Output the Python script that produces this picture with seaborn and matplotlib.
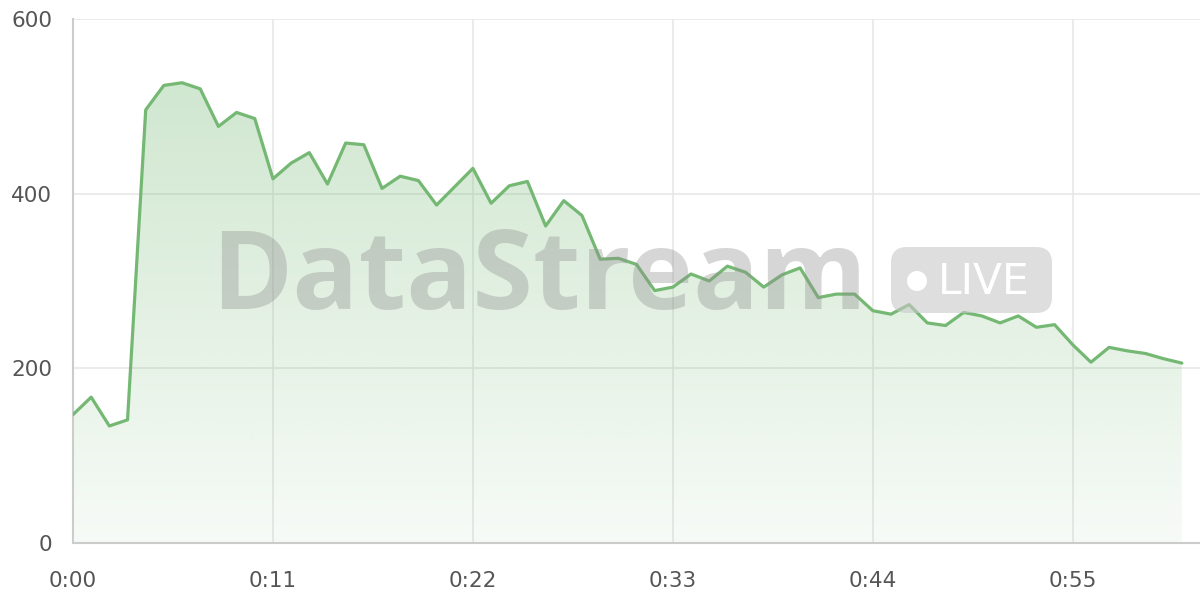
import numpy as np
import pandas as pd
import matplotlib
matplotlib.use("Agg")
import matplotlib.pyplot as plt
import seaborn as sns
from matplotlib.patches import FancyBboxPatch, Circle
from matplotlib.colors import to_rgb

# ---- data ----
seconds = list(range(62))
values = [147, 167, 134, 141, 496, 524, 527, 520, 477, 493, 486, 417, 435, 447, 411,
          458, 456, 406, 420, 415, 387, 408, 429, 389, 409, 414, 363, 392, 375, 325,
          326, 319, 289, 293, 308, 300, 317, 310, 293, 307, 315, 281, 285, 285, 266,
          262, 273, 252, 249, 264, 260, 252, 260, 247, 250, 227, 207, 224, 220, 217,
          211, 206]
tick_positions = [0, 11, 22, 33, 44, 55]
tick_labels = ["0:00", "0:11", "0:22", "0:33", "0:44", "0:55"]
y_ticks = [0, 200, 400, 600]
watermark = "DataStream"
badge = "LIVE"

LINE = "#74b874"
df = pd.DataFrame({"t": seconds, "v": values})

sns.set_theme(style="white")
plt.rcParams["font.family"] = ["DejaVu Sans"]

fig = plt.figure(figsize=(12, 6), dpi=100)
ax = fig.add_axes([73 / 1200, 57 / 600, 1127 / 1200, 524 / 600])
ax.set_xlim(0, 62)
ax.set_ylim(0, 600)

# gradient fill under the line
poly = ax.fill_between(df["t"], df["v"], 0, color="none", lw=0)
rgb = to_rgb(LINE)
n = 256
grad = np.zeros((n, 1, 4))
grad[:, 0, :3] = rgb
grad[:, 0, 3] = np.linspace(0.06, 0.34, n)
im = ax.imshow(grad, extent=[0, 61, 0, 527], origin="lower", aspect="auto", zorder=1)
path = poly.get_paths()[0]
im.set_clip_path(path, transform=ax.transData)

# watermark
fig.text(211 / 1200, 1 - 309 / 600, watermark, fontsize=79, fontweight="bold",
         family=["Open Sans", "DejaVu Sans"], color="#8f8f8f", alpha=0.36,
         ha="left", va="baseline", zorder=5)

box = FancyBboxPatch((891, 600 - 313), 161, 66, boxstyle="round,pad=0,rounding_size=16",
                     transform=None, facecolor="#c8c8c8", edgecolor="none",
                     alpha=0.6, zorder=5)
fig.patches.append(box)
dot = Circle((917, 600 - 281), 10, transform=None, facecolor="white", edgecolor="none", zorder=6)
fig.patches.append(dot)
fig.text(938 / 1200, 1 - 294 / 600, badge, fontsize=30.5, color="white",
         family=["DejaVu Sans"], ha="left", va="baseline", zorder=6)

# line
sns.lineplot(data=df, x="t", y="v", ax=ax, color=LINE, lw=2.3, zorder=4)

# axes styling
ax.set_xticks(tick_positions)
ax.set_xticklabels(tick_labels)
ax.set_yticks(y_ticks)
ax.set_xlabel("")
ax.set_ylabel("")
ax.grid(True, color="#e6e6e6", lw=1.1)
ax.set_axisbelow(True)
for s in ["top", "right"]:
    ax.spines[s].set_visible(False)
for s in ["left", "bottom"]:
    ax.spines[s].set_color("#cccccc")
    ax.spines[s].set_linewidth(1.5)
ax.tick_params(axis="both", length=11, width=1.1, color="#e6e6e6",
               labelsize=15.5, labelcolor="#555555")
ax.tick_params(axis="x", pad=9)
ax.tick_params(axis="y", pad=4)

fig.savefig("out.png", dpi=100, facecolor="white")
